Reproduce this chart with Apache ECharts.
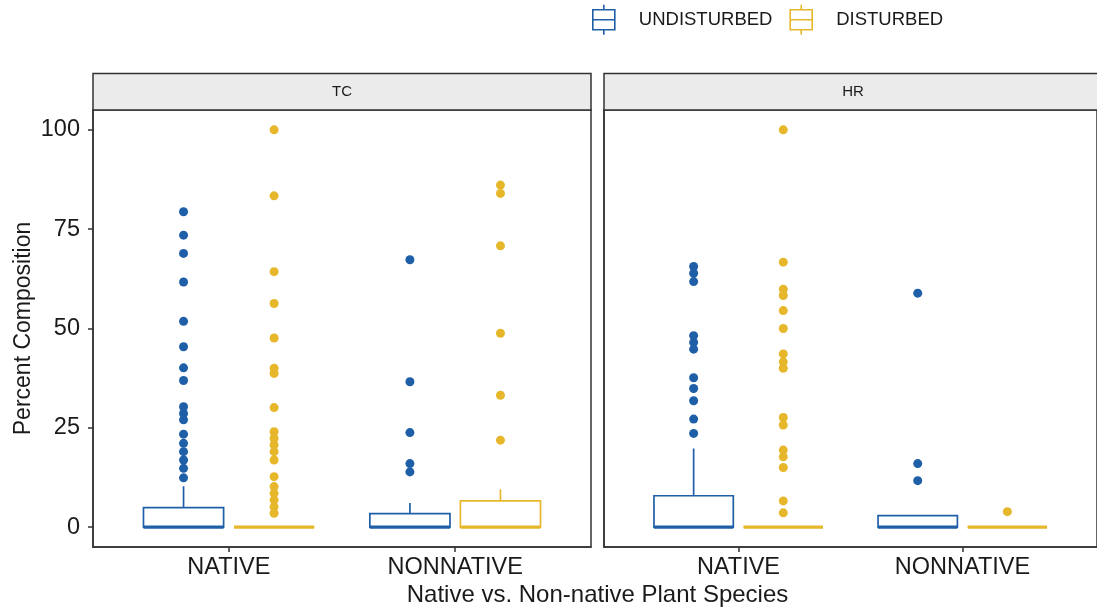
<!DOCTYPE html>
<html>
<head>
<meta charset="utf-8">
<script src="https://cdn.jsdelivr.net/npm/echarts@6/dist/echarts.min.js"></script>
<style>
  html, body { margin: 0; padding: 0; background: #ffffff; }
  #chart { width: 1097px; height: 615px; }
</style>
</head>
<body>
<div id="chart"></div>
<script>
// Categories, facets and groups
const categories = ['NATIVE', 'NONNATIVE'];
const sites = ['TC', 'HR'];
const groups = ['UNDISTURBED', 'DISTURBED'];
const yTicks = [0, 25, 50, 75, 100];

// Box summaries per category: [lower whisker, Q1, median, Q3, upper whisker]
const tcUndisturbedStats = [[0, 0, 0, 4.9, 10.3], [0, 0, 0, 3.4, 6.1]];
const tcDisturbedStats = [[0, 0, 0, 0, 0], [0, 0, 0, 6.6, 9.5]];
const hrUndisturbedStats = [[0, 0, 0, 7.9, 19.8], [0, 0, 0, 2.9, 2.9]];
const hrDisturbedStats = [[0, 0, 0, 0, 0], [0, 0, 0, 0, 0]];

// Outlying observations per category
const tcUndisturbedOutliers = [
  [79.4, 73.5, 68.9, 61.7, 51.8, 45.4, 40.1, 36.9, 30.3, 28.6, 27.0, 23.4, 21.1, 19.0, 16.9, 14.8, 12.4],
  [67.3, 36.6, 23.8, 16.0, 13.9]
];
const tcDisturbedOutliers = [
  [100, 83.4, 64.3, 56.3, 47.6, 40.0, 38.7, 30.1, 24.0, 22.3, 20.7, 19.0, 16.9, 12.7, 10.2, 8.5, 6.8, 5.1, 3.5],
  [86.1, 84.0, 70.8, 48.8, 33.2, 21.9]
];
const hrUndisturbedOutliers = [
  [65.6, 63.9, 61.8, 48.2, 46.5, 44.8, 37.6, 34.9, 31.8, 27.2, 23.6],
  [58.9, 16.0, 11.7]
];
const hrDisturbedOutliers = [
  [100, 66.7, 59.9, 58.3, 54.5, 50.0, 43.6, 41.6, 40.0, 27.6, 25.7, 19.4, 17.7, 15.0, 6.6, 3.6],
  [3.9]
];

const COLORS = ['#1f5fa8', '#e6b72a'];
const FONT = "'Liberation Sans', Arial, sans-serif";
const INK = '#1a1a1a';
const FRAME = '#333333';
const DODGE = 0.2;      // horizontal shift of each group from the category centre
const BOX_W = 0.354;    // box width in x-axis units

const facets = [
  { stats: [tcUndisturbedStats, tcDisturbedStats], outliers: [tcUndisturbedOutliers, tcDisturbedOutliers] },
  { stats: [hrUndisturbedStats, hrDisturbedStats], outliers: [hrUndisturbedOutliers, hrDisturbedOutliers] }
];

const GRID_TOP = 110, GRID_H = 437, GRID_W = 498;
const gridLefts = [93, 604];
const STRIP_TOP = 73.5;

function boxRenderer(color) {
  return function (params, api) {
    const x = api.value(0);
    const lo = api.value(1), q1 = api.value(2), med = api.value(3), q3 = api.value(4), hi = api.value(5);
    const tl = api.coord([x - BOX_W / 2, q3]);
    const br = api.coord([x + BOX_W / 2, q1]);
    const mid = api.coord([x, med]);
    const top = api.coord([x, hi]);
    const bot = api.coord([x, lo]);
    const line = { stroke: color, lineWidth: 1.7 };
    return {
      type: 'group',
      children: [
        { type: 'line', shape: { x1: mid[0], y1: top[1], x2: mid[0], y2: tl[1] }, style: line },
        { type: 'line', shape: { x1: mid[0], y1: br[1], x2: mid[0], y2: bot[1] }, style: line },
        { type: 'rect', shape: { x: tl[0], y: tl[1], width: br[0] - tl[0], height: br[1] - tl[1] },
          style: { fill: '#ffffff', stroke: color, lineWidth: 1.7 } },
        { type: 'line', shape: { x1: tl[0], y1: mid[1], x2: br[0], y2: mid[1] },
          style: { stroke: color, lineWidth: 3.4 } }
      ]
    };
  };
}

const series = [];
facets.forEach((facet, fi) => {
  groups.forEach((group, gi) => {
    const shift = gi === 0 ? -DODGE : DODGE;
    series.push({
      type: 'custom',
      name: group,
      xAxisIndex: fi,
      yAxisIndex: fi,
      renderItem: boxRenderer(COLORS[gi]),
      encode: { x: 0, y: [1, 2, 3, 4, 5] },
      data: facet.stats[gi].map((s, ci) => [ci + 1 + shift].concat(s)),
      silent: true,
      z: 2
    });
    const pts = [];
    facet.outliers[gi].forEach((vals, ci) => {
      vals.forEach(v => pts.push([ci + 1 + shift, v]));
    });
    series.push({
      type: 'scatter',
      name: group,
      xAxisIndex: fi,
      yAxisIndex: fi,
      symbol: 'circle',
      symbolSize: 9,
      itemStyle: { color: COLORS[gi], opacity: 1 },
      data: pts,
      silent: true,
      z: 3
    });
  });
});

const xAxes = gridLefts.map((_, i) => ({
  type: 'value',
  gridIndex: i,
  min: 0.4,
  max: 2.6,
  splitLine: { show: false },
  axisLine: { show: true, onZero: false, lineStyle: { color: FRAME, width: 1.5 } },
  axisTick: { show: true, customValues: [1, 2], length: 5, lineStyle: { color: FRAME, width: 1.5 } },
  axisLabel: {
    show: true, customValues: [1, 2], margin: 9,
    formatter: v => categories[Math.round(v) - 1] || '',
    fontSize: 23.5, color: INK, fontFamily: FONT
  }
}));

const yAxes = gridLefts.map((_, i) => ({
  type: 'value',
  gridIndex: i,
  min: -5,
  max: 105,
  splitLine: { show: false },
  axisLine: { show: true, onZero: false, lineStyle: { color: FRAME, width: 1.5 } },
  axisTick: { show: i === 0, customValues: yTicks, length: 5, lineStyle: { color: FRAME, width: 1.5 } },
  axisLabel: {
    show: i === 0, customValues: yTicks, margin: 13,
    fontSize: 23.5, color: INK, fontFamily: FONT
  },
  name: i === 0 ? 'Percent Composition' : '',
  nameLocation: 'middle',
  nameGap: 58,
  nameRotate: 90,
  nameTextStyle: { fontSize: 23, color: INK, fontFamily: FONT }
}));

// boxplot key glyph: box with median bar and whisker stubs
const legendIcon = 'path://M0,5L22,5L22,25L0,25Z M0,15L22,15 M11,0L11,5 M11,25L11,30';

const graphics = [];
gridLefts.forEach((left, i) => {
  graphics.push({
    type: 'rect',
    shape: { x: left, y: STRIP_TOP, width: GRID_W, height: GRID_TOP - STRIP_TOP },
    style: { fill: '#ebebeb', stroke: FRAME, lineWidth: 1.5 },
    z: 1
  });
  graphics.push({
    type: 'text',
    x: left + GRID_W / 2,
    y: (STRIP_TOP + GRID_TOP) / 2,
    style: { text: sites[i], fontSize: 15, fill: INK, fontFamily: FONT, align: 'center', verticalAlign: 'middle' },
    z: 2
  });
});
graphics.push({
  type: 'text',
  x: (gridLefts[0] + gridLefts[1] + GRID_W) / 2,
  y: 595,
  style: { text: 'Native vs. Non-native Plant Species', fontSize: 24, fill: INK, fontFamily: FONT,
           align: 'center', verticalAlign: 'middle' }
});

const option = {
  backgroundColor: '#ffffff',
  animation: false,
  textStyle: { fontFamily: FONT },
  grid: gridLefts.map(left => ({
    left: left, top: GRID_TOP, width: GRID_W, height: GRID_H,
    show: true, borderColor: FRAME, borderWidth: 1.5, backgroundColor: 'transparent'
  })),
  xAxis: xAxes,
  yAxis: yAxes,
  legend: {
    left: 592,
    top: 4,
    padding: 0,
    itemWidth: 22,
    itemHeight: 30,
    itemGap: 17,
    selectedMode: false,
    textStyle: { fontSize: 18.5, color: INK, fontFamily: FONT, padding: [0, 0, 0, 19] },
    data: groups.map((g, gi) => ({
      name: g,
      icon: legendIcon,
      itemStyle: { color: '#ffffff', borderColor: COLORS[gi], borderWidth: 1.6 }
    }))
  },
  graphic: graphics,
  series: series
};

const chart = echarts.init(document.getElementById('chart'), null, { renderer: 'canvas' });
chart.setOption(option);
</script>
</body>
</html>
